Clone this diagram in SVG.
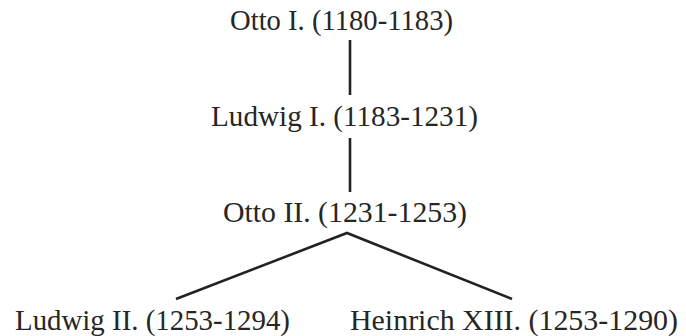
<svg xmlns="http://www.w3.org/2000/svg" width="686" height="336" viewBox="0 0 686 336">
<style>
text{font-family:"Liberation Serif","Times New Roman",serif;font-size:29px;fill:#262626}
.c{stroke:#222;stroke-width:2.6;fill:none}
</style>
<rect width="686" height="336" fill="#fff"/>
<g id="connectors">
<line class="c" x1="350" y1="40" x2="350" y2="95"/>
<line class="c" x1="350" y1="138" x2="350" y2="192"/>
<polyline class="c" points="176,299 347,233 512,299"/>
</g>
<g id="otto1"><text x="230" y="30" textLength="223" lengthAdjust="spacingAndGlyphs">Otto I. (1180-1183)</text></g>
<g id="ludwig1"><text x="211" y="126" textLength="267" lengthAdjust="spacingAndGlyphs">Ludwig I. (1183-1231)</text></g>
<g id="otto2"><text x="223" y="222" textLength="244" lengthAdjust="spacingAndGlyphs">Otto II. (1231-1253)</text></g>
<g id="ludwig2"><text x="15" y="330" textLength="275" lengthAdjust="spacingAndGlyphs">Ludwig II. (1253-1294)</text></g>
<g id="heinrich13"><text x="350" y="330" textLength="328" lengthAdjust="spacingAndGlyphs">Heinrich XIII. (1253-1290)</text></g>
</svg>
